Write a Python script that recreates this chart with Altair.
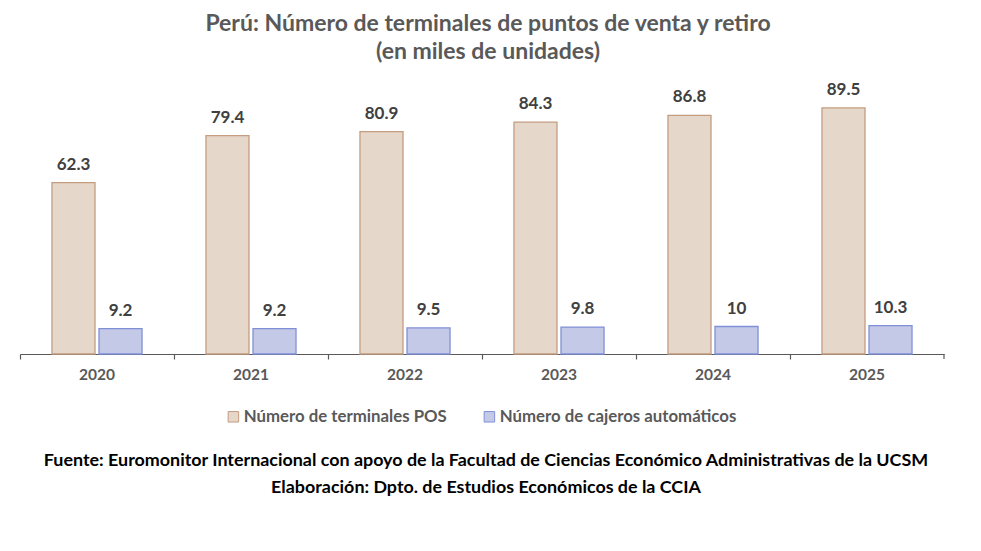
import altair as alt
import pandas as pd

years = ["2020", "2021", "2022", "2023", "2024", "2025"]
pos_values = [62.3, 79.4, 80.9, 84.3, 86.8, 89.5]
atm_values = [9.2, 9.2, 9.5, 9.8, 10, 10.3]
series_names = ["Número de terminales POS", "Número de cajeros automáticos"]
title_lines = ["Perú: Número de terminales de puntos de venta y retiro", "(en miles de unidades)"]
footer_lines = [
    "Fuente: Euromonitor Internacional con apoyo de la Facultad de Ciencias Económico Administrativas de la UCSM",
    "Elaboración: Dpto. de Estudios Económicos de la CCIA",
]

rows = []
for y, p, a in zip(years, pos_values, atm_values):
    rows.append({"year": y, "serie": series_names[0], "value": p, "label": f"{p:g}"})
    rows.append({"year": y, "serie": series_names[1], "value": a, "label": f"{a:g}"})
df = pd.DataFrame(rows)

FONT = "Lato"
W, H = 924, 275

x_enc = alt.X(
    "year:N",
    sort=years,
    scale=alt.Scale(paddingInner=0, paddingOuter=0),
    axis=alt.Axis(
        title=None,
        labelAngle=0,
        labelFont=FONT,
        labelFontSize=15.5,
        labelFontWeight="bold",
        labelColor="#595959",
        labelPadding=8,
        domainColor="#595959",
        domainWidth=1.2,
        tickColor="#595959",
        tickSize=5,
        tickWidth=1.2,
        bandPosition=0,
        grid=False,
    ),
)
xoff_enc = alt.XOffset(
    "serie:N",
    sort=series_names,
    scale=alt.Scale(paddingInner=0.085, paddingOuter=0.68),
)
y_enc = alt.Y("value:Q", scale=alt.Scale(domain=[0, 100]), axis=None)

color_enc = alt.Color(
    "serie:N",
    sort=series_names,
    scale=alt.Scale(domain=series_names, range=["#E6D7CB", "#C4C9E8"]),
    legend=alt.Legend(
        title=None,
        orient="none",
        direction="horizontal",
        legendX=205,
        legendY=329,
        labelFont=FONT,
        labelFontSize=16.8,
        labelFontWeight="bold",
        labelColor="#595959",
        labelLimit=0,
        symbolType="square",
        symbolSize=110,
        symbolStrokeWidth=1,
        columnPadding=34,
        labelOffset=2,
    ),
)
stroke_enc = alt.Stroke(
    "serie:N",
    sort=series_names,
    scale=alt.Scale(domain=series_names, range=["#C49C80", "#8090D6"]),
    legend=None,
)

base = alt.Chart(df).encode(x=x_enc, xOffset=xoff_enc, y=y_enc)

bars = base.mark_bar(strokeWidth=1.3).encode(color=color_enc, stroke=stroke_enc)

labels = base.mark_text(
    baseline="bottom", dy=-9, font=FONT, fontSize=17, fontWeight="bold", color="#404040"
).encode(text="label:N")

end_tick = alt.Chart(pd.DataFrame({"year": [years[-1]]})).mark_rule(
    color="#595959", strokeWidth=1.2
).encode(
    x=alt.X("year:N", sort=years, bandPosition=1),
    y=alt.value(H),
    y2=alt.value(H + 5),
)

footer_df = pd.DataFrame({"line": footer_lines, "i": [0, 1]})
footer = alt.Chart(footer_df).mark_text(
    font=FONT, fontSize=17.9, fontWeight="bold", color="#000000", baseline="middle"
).encode(
    text="line:N",
    x=alt.value(466),
    y=alt.Y("i:Q", scale=alt.Scale(domain=[0, 1], range=[382, 409]), axis=None),
)

chart = alt.layer(bars, labels, end_tick, footer).resolve_scale(y="independent").properties(
    width=W,
    height=H,
    padding={"left": 12, "top": 71, "right": 29, "bottom": 189},
    autosize=alt.AutoSizeParams(type="none"),
    title=alt.TitleParams(
        text=title_lines,
        font=FONT,
        fontSize=23,
        fontWeight="bold",
        color="#595959",
        anchor="middle",
        dx=6,
        offset=15,
        lineHeight=28,
    ),
).configure_view(stroke=None)

chart.save("out.html", embed_options={"renderer": "svg", "actions": False})
